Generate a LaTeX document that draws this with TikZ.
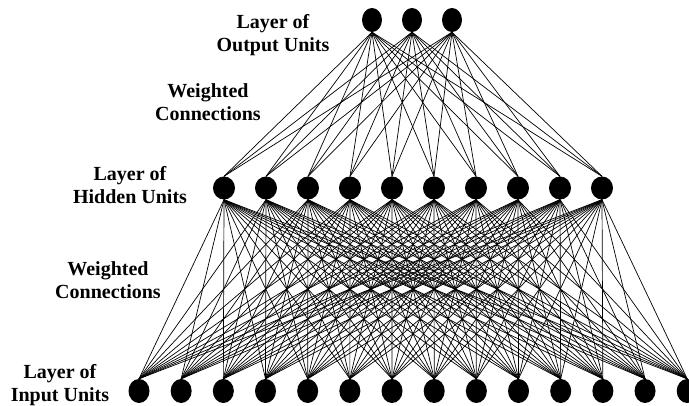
\documentclass[tikz,border=0pt]{standalone}
\usepackage{fontspec}
\setmainfont{Liberation Serif}
\usetikzlibrary{shapes.geometric}
\begin{document}
\begin{tikzpicture}[x=1pt,y=-1pt,
  unit/.style={ellipse,fill=black,draw=none,inner sep=0pt},
  outunit/.style={unit,minimum width=20pt,minimum height=24pt},
  hidunit/.style={unit,minimum width=22pt,minimum height=23pt},
  inunit/.style={unit,minimum width=21pt,minimum height=24pt},
  conn/.style={draw=black,line width=0.7pt},
  lbl/.style={align=center,inner sep=0pt,font=\bfseries\fontsize{20}{23}\selectfont}]
\useasboundingbox (0,0) rectangle (689,406);
\foreach \i in {0,1,2} \path (372+40*\i,20) coordinate (o\i);
\foreach \i in {0,...,9} \path (224+42*\i,188) coordinate (h\i);
\foreach \i in {0,...,13} \path (139+42.17*\i,391) coordinate (n\i);
\foreach \i in {0,1,2} \node[outunit] (O\i) at (o\i) {};
\foreach \i in {0,...,9} \node[hidunit] (H\i) at (h\i) {};
\foreach \i in {0,...,13} \node[inunit] (I\i) at (n\i) {};
\foreach \i in {0,1,2} \foreach \j in {0,...,9} \draw[conn] (O\i.south) -- (H\j.north);
\foreach \i in {0,...,9} \foreach \j in {0,...,13} \draw[conn] (H\i.south) -- (I\j.north);
\node[lbl] (lo) at (273,35) {Layer of\\Output Units};
\node[lbl] (w1) at (208,102) {Weighted\\Connections};
\node[lbl] (lh) at (130,185) {Layer of\\Hidden Units};
\node[lbl] (w2) at (108,280) {Weighted\\Connections};
\node[lbl] (li) at (60,385) {Layer of\\Input Units};
\end{tikzpicture}
\end{document}
